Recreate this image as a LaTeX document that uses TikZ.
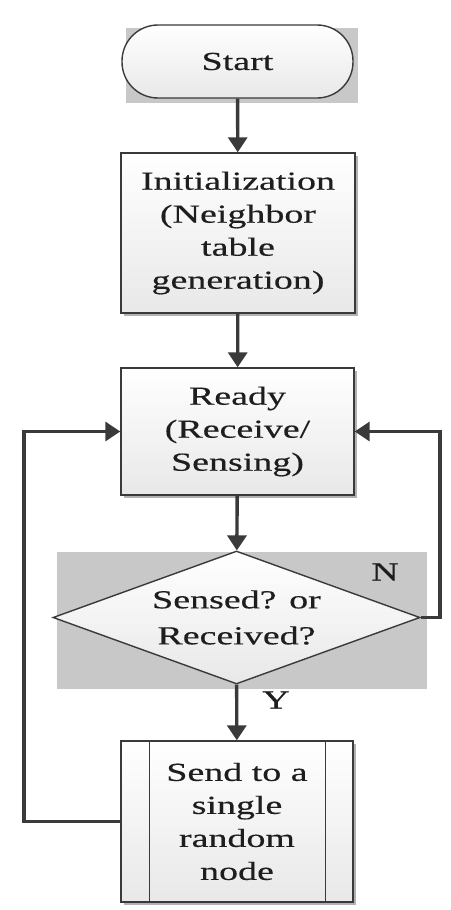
\documentclass[tikz,border=0pt]{standalone}
\usepackage{fontspec}
\setmainfont{Liberation Serif}[FakeStretch=1.46,FakeBold=0.35]
\usetikzlibrary{arrows.meta,shapes.geometric,shadows,calc}
\definecolor{ln}{HTML}{3A3A3A}
\definecolor{bg}{HTML}{C8C8C8}
\definecolor{tx}{HTML}{1E1E1E}
\begin{document}
\begin{tikzpicture}[x=1pt,y=-1pt,
  boxbase/.style={draw=ln, line width=1.4pt, shading=axis, top color=white, bottom color=black!9,
    text=tx, align=center, font=\fontsize{26}{33}\selectfont, inner sep=0pt},
  box/.style={boxbase, drop shadow={shadow xshift=2.5pt, shadow yshift=-2.5pt, fill=black!30, opacity=1}},
  arr/.style={draw=ln, line width=3.4pt, -{Triangle[length=15pt,width=19pt]}},
  thin/.style={draw=ln, line width=1.4pt},
  lab/.style={text=tx, font=\fontsize{26}{33}\selectfont, inner sep=0pt}]
\useasboundingbox (0,0) rectangle (450,910);
\fill[bg] (126,28) rectangle (358,103);
\node[boxbase, rounded corners=36pt, minimum width=231pt, minimum height=73pt] (start) at (237.5,61.5) {Start};
\node[box, minimum width=234pt, minimum height=160pt] (init) at (238,233) {Initialization\\(Neighbor\\table\\generation)};
\node[box, minimum width=233pt, minimum height=127pt] (ready) at (237.5,431.5) {Ready\\(Receive/\\Sensing)};
\fill[bg] (57,552) rectangle (427,689);
\node[boxbase, diamond, aspect=2.76, minimum width=367pt, minimum height=133pt, font=\fontsize{26}{36}\selectfont] (dec) at (236.5,617.5) {Sensed? or\\Received?};
\node[box, minimum width=232pt, minimum height=161pt] (send) at (237,821.5) {Send to a\\single\\random\\node};
\draw[thin] ($(send.north west)+(29,0)$) -- ($(send.south west)+(29,0)$);
\draw[thin] ($(send.north east)+(-28,0)$) -- ($(send.south east)+(-28,0)$);
\coordinate (lx) at (24,820);
\coordinate (rx) at (440,617.5);
\draw[arr] (start) -- (init);
\draw[arr] (init) -- (ready);
\draw[arr] (ready) -- (dec);
\draw[arr] (dec) -- (send);
\draw[arr] (dec.east) -- (rx) |- (ready.east);
\draw[arr] (send.west) -- (send.west -| lx) |- (ready.west);
\node[lab] (n) at (385,572) {N};
\node[lab] (y) at (276,700) {Y};
\end{tikzpicture}
\end{document}
